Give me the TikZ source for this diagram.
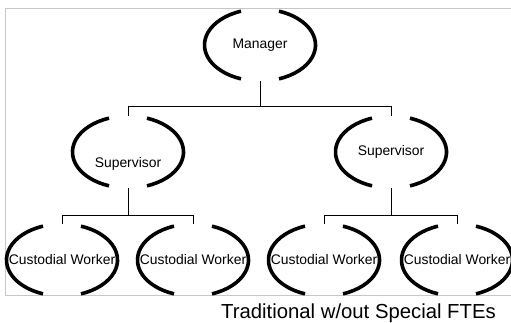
\documentclass[tikz,border=0pt]{standalone}
\usepackage{fontspec}
\setmainfont{Liberation Sans}
\usetikzlibrary{shapes.geometric}

\begin{document}
\begin{tikzpicture}[x=1pt, y=-1pt,
    box/.style={ellipse, minimum width=111pt, minimum height=72pt, inner sep=0pt, outer sep=0pt,
                font=\fontsize{13.9}{16}\selectfont},
    bracket/.style={line width=3.6pt},
    wire/.style={line width=0.9pt}]
    \clip (0,0) rectangle (511,322);

    % Light frame behind the chart
    \draw [black!22, line width=1pt] (520,8) -- (5.5,8) -- (5.5,295) -- (520,295);

    % Nodes of the chart
    \node[box] (mgr) at (260,45) {Manager};
    \node[box] (supL) at (128,152) {\raisebox{-15pt}[0pt][0pt]{Supervisor}};
    \node[box] (supR) at (391,152) {Supervisor};
    \node[box] (cw1) at (62,260) {Custodial Worker};
    \node[box] (cw2) at (193,260) {Custodial Worker};
    \node[box] (cw3) at (324,260) {Custodial Worker};
    \node[box] (cw4) at (457,260) {Custodial Worker};

    % Open brackets round every node
    \foreach \n in {mgr, supL, supR, cw1, cw2, cw3, cw4} {
        \draw [bracket] (\n.center) ++(-70:55.5 and 36) arc[start angle=-70, end angle=70, x radius=55.5, y radius=36];
        \draw [bracket] (\n.center) ++(110:55.5 and 36) arc[start angle=110, end angle=250, x radius=55.5, y radius=36];
    }

    % Manager to supervisors
    \draw [wire] (mgr.south) -- ++(0,25) -| (supL.north);
    \draw [wire] (mgr.south) -- ++(0,25) -| (supR.north);

    % Supervisors to workers
    \draw [wire] (supL.south) -- ++(0,27) -| (cw1.north);
    \draw [wire] (supL.south) -- ++(0,27) -| (cw2.north);
    \draw [wire] (supR.south) -- ++(0,27) -| (cw3.north);
    \draw [wire] (supR.south) -- ++(0,27) -| (cw4.north);

    % Caption
    \node[font=\fontsize{20.3}{23}\selectfont] (caption) at (358.5,313) {Traditional w/out Special FTEs};
\end{tikzpicture}
\end{document}
